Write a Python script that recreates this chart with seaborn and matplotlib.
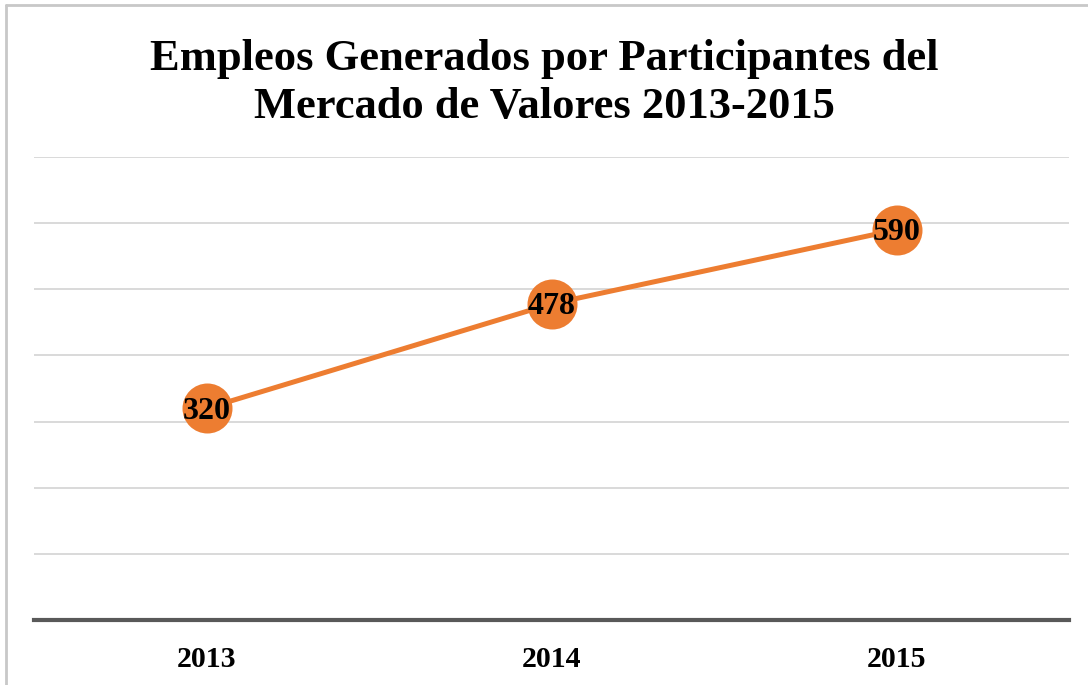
import pandas as pd
import seaborn as sns
import matplotlib.pyplot as plt
from matplotlib.lines import Line2D

years = ["2013", "2014", "2015"]
empleos = [320, 478, 590]
title = "Empleos Generados por Participantes del\nMercado de Valores 2013-2015"

df = pd.DataFrame({"anio": years, "empleos": empleos})

sns.set_style("white")
plt.rcParams['font.family'] = ['Liberation Serif', 'DejaVu Serif']
plt.rcParams['text.color'] = 'black'
plt.rcParams['xtick.color'] = 'black'

fig = plt.figure(figsize=(10.88, 6.85), dpi=100)
ax = fig.add_axes([34/1088, 1-620/685, (1069-34)/1088, (620-157)/685])

orange = "#ED7D31"
sns.lineplot(data=df, x="anio", y="empleos", ax=ax, color=orange, linewidth=3.6,
             marker="o", markersize=36, markeredgewidth=0, sort=False, zorder=3)

for x, v in zip(df["anio"], df["empleos"]):
    ax.annotate(str(v), (x, v), xytext=(0, -2), textcoords="offset points",
                ha="center", va="center", fontsize=23, fontweight="bold",
                color="black", zorder=4)

ax.set_xlim(-0.5, 2.5)
ax.set_ylim(0, 700)
ax.set_yticks(range(0, 701, 100))
ax.yaxis.grid(True, color="#d9d9d9", linewidth=1.4)
ax.set_axisbelow(True)
ax.tick_params(axis="y", left=False, labelleft=False)
ax.tick_params(axis="x", bottom=False, labelsize=21.5, labelcolor="black", pad=15)
for lbl in ax.get_xticklabels():
    lbl.set_fontweight("bold")
ax.set_xlabel("")
ax.set_ylabel("")
for s in ["top", "right", "left"]:
    ax.spines[s].set_visible(False)
ax.spines["bottom"].set_color("#595959")
ax.spines["bottom"].set_linewidth(3)
ax.spines["bottom"].set_zorder(5)

fig.text(0.5, 1-83/685, title, ha="center", va="center", fontsize=32,
         fontweight="bold", linespacing=1.25, color="black")

# outer frame (left and top edges visible)
fig.add_artist(Line2D([5.5/1088, 5.5/1088], [0, 1-5/685], transform=fig.transFigure,
                      color="#c8c8c8", linewidth=2))
fig.add_artist(Line2D([5.5/1088, 1], [1-5/685, 1-5/685], transform=fig.transFigure,
                      color="#c8c8c8", linewidth=2))

fig.savefig("out.png", dpi=100)
